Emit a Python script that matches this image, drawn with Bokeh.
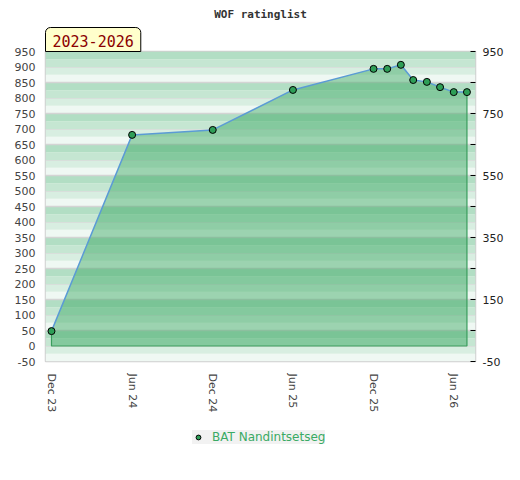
import datetime as dt
from bokeh.plotting import figure
from bokeh.layouts import column
from bokeh.models import (Range1d, FixedTicker, LinearAxis, DatetimeTickFormatter,
                          BoxAnnotation, Title, Legend, LegendItem, Grid,
                          CustomJSTickFormatter)
from bokeh.embed import file_html
from bokeh.resources import INLINE

# ---- data ----
dates = [dt.datetime(2023, 12, 1), dt.datetime(2024, 6, 1), dt.datetime(2024, 12, 1),
         dt.datetime(2025, 6, 1), dt.datetime(2025, 12, 1), dt.datetime(2026, 1, 1),
         dt.datetime(2026, 2, 1), dt.datetime(2026, 3, 1), dt.datetime(2026, 4, 1),
         dt.datetime(2026, 5, 1), dt.datetime(2026, 6, 1), dt.datetime(2026, 7, 1)]
ratings = [48, 681, 697, 826, 894, 894, 907, 858, 852, 835, 819, 819]
player = "BAT Nandintsetseg"
title_text = "WOF ratinglist"
period_text = "2023-2026"
x_tick_dates = [dt.datetime(2023, 12, 1), dt.datetime(2024, 6, 1), dt.datetime(2024, 12, 1),
                dt.datetime(2025, 6, 1), dt.datetime(2025, 12, 1), dt.datetime(2026, 6, 1)]
left_ticks = list(range(-50, 951, 50))
right_major = list(range(-50, 951, 200))
right_minor = list(range(50, 851, 200))

def ms(d):
    return (d - dt.datetime(1970, 1, 1)).total_seconds() * 1000.0

DAY = 86400000.0
x0 = ms(dates[0]) - 13.6 * DAY
x1 = ms(dates[-1]) + 19.4 * DAY

p = figure(x_axis_type="datetime",
           x_range=Range1d(x0, x1), y_range=Range1d(-50, 950),
           output_backend="svg", toolbar_location=None,
           frame_width=430, frame_height=310,
           min_border_left=45, min_border_right=29, min_border_top=50, min_border_bottom=60)
p.background_fill_color = "white"
p.border_fill_color = "white"
p.outline_line_color = "#cfcfcf"
p.outline_line_width = 1.5

# stripes
band_colors = ["#eff8f3", "#d8eee1", "#c5e6d2", "#b2dec4"]
for i, b in enumerate(range(-50, 950, 25)):
    p.add_layout(BoxAnnotation(bottom=b, top=b + 25, fill_color=band_colors[i % 4],
                               fill_alpha=1.0, line_color=None, level="image"))

# grids
p.xgrid.visible = False
p.ygrid.ticker = FixedTicker(ticks=list(range(50, 851, 100)))
p.ygrid.grid_line_color = "#d4d4d4"
p.ygrid.grid_line_width = 1.5
g2 = Grid(dimension=1, ticker=FixedTicker(ticks=list(range(0, 901, 100))),
          grid_line_color="#d8d8d8", grid_line_width=1, grid_line_alpha=0.7)
p.add_layout(g2)

xs = [ms(d) for d in dates]
# area
p.patch(xs + [xs[-1], xs[0]], ratings + [0, 0], fill_color="#32a45a", fill_alpha=0.44,
        line_color=None)
p.line([xs[-1], xs[-1], xs[0], xs[0]], [ratings[-1], 0, 0, ratings[0]],
       line_color="#3a9d5d", line_width=1.2)
p.line(xs, ratings, line_color="#5b9bd5", line_width=1.5)
marker_style = dict(size=7, fill_color="#2e9e57", line_color="black", line_width=1)
p.scatter(xs, ratings, **marker_style)

# axes
xa = p.xaxis[0]
xa.ticker = FixedTicker(ticks=[ms(d) for d in x_tick_dates])
fmt = "%b %y"
xa.formatter = DatetimeTickFormatter(microseconds=fmt, milliseconds=fmt, seconds=fmt,
                                     minsec=fmt, minutes=fmt, hourmin=fmt, hours=fmt,
                                     days=fmt, months=fmt, years=fmt)
xa.major_label_orientation = "vertical"
xa.axis_line_color = None
xa.major_tick_line_color = None
xa.minor_tick_line_color = None
xa.major_tick_out = 0
xa.major_tick_in = 0
xa.minor_tick_out = 0
xa.major_label_standoff = 12
xa.major_label_text_font = "DejaVu Sans"
xa.major_label_text_font_size = "11px"
xa.major_label_text_color = "#444444"

ya = p.yaxis[0]
ya.ticker = FixedTicker(ticks=left_ticks)
ya.formatter = CustomJSTickFormatter(code="return String(tick);")
ya.axis_line_color = None
ya.major_tick_line_color = None
ya.minor_tick_line_color = None
ya.major_tick_out = 0
ya.minor_tick_out = 0
ya.major_label_standoff = 10
ya.major_label_text_font = "DejaVu Sans"
ya.major_label_text_font_size = "11px"
ya.major_label_text_color = "#444444"

ra = LinearAxis(ticker=FixedTicker(ticks=right_major, minor_ticks=right_minor),
                formatter=CustomJSTickFormatter(code="return String(tick);"))
ra.axis_line_color = None
ra.major_tick_in = 5
ra.major_tick_out = 0
ra.minor_tick_in = 5
ra.minor_tick_out = 0
ra.major_tick_line_color = "black"
ra.minor_tick_line_color = "black"
ra.major_label_standoff = 7
ra.major_label_text_font = "DejaVu Sans"
ra.major_label_text_font_size = "11px"
ra.major_label_text_color = "#222222"
p.add_layout(ra, "right")

# badge (closest to frame)
badge = Title(text=period_text, align="left", standoff=0, offset=0,
              text_font="DejaVu Sans Mono", text_font_size="15px",
              text_font_style="normal", text_color="#8b0000",
              background_fill_color="#ffffcc", border_line_color="black",
              border_line_width=1,
              padding=dict(left=7, right=7, top=7, bottom=5),
              border_radius=dict(top_left=5, top_right=5, bottom_right=0, bottom_left=0))
p.add_layout(badge, "above")

# title
p.title.text = title_text
p.title.align = "center"
p.title.text_font = "DejaVu Sans Mono"
p.title.text_font_style = "bold"
p.title.text_font_size = "11px"
p.title.text_color = "#333333"

# legend strip below the chart (its range shows no data; only the legend is visible)
q = figure(width=504, height=44, output_backend="svg", toolbar_location=None,
           x_range=Range1d(x0, x1), y_range=Range1d(2000, 3000),
           x_axis_location=None, y_axis_location=None,
           min_border_left=0, min_border_right=0, min_border_top=0, min_border_bottom=0)
q.outline_line_color = None
q.xgrid.visible = False
q.ygrid.visible = False
q.background_fill_color = "white"
q.border_fill_color = "white"
lr = q.scatter(xs, ratings, **marker_style)
leg = Legend(items=[LegendItem(label=player, renderers=[lr])], location=(147, 21),
             background_fill_color="#f2f2f2", background_fill_alpha=1.0,
             border_line_color=None, padding=5, margin=0, spacing=0,
             glyph_width=12, glyph_height=12, label_height=12, label_standoff=8,
             label_text_color="#3aaa64", label_text_font="DejaVu Sans",
             label_text_font_size="12px")
q.add_layout(leg, "center")

open("out.html", "w").write(file_html(column(p, q), INLINE))
